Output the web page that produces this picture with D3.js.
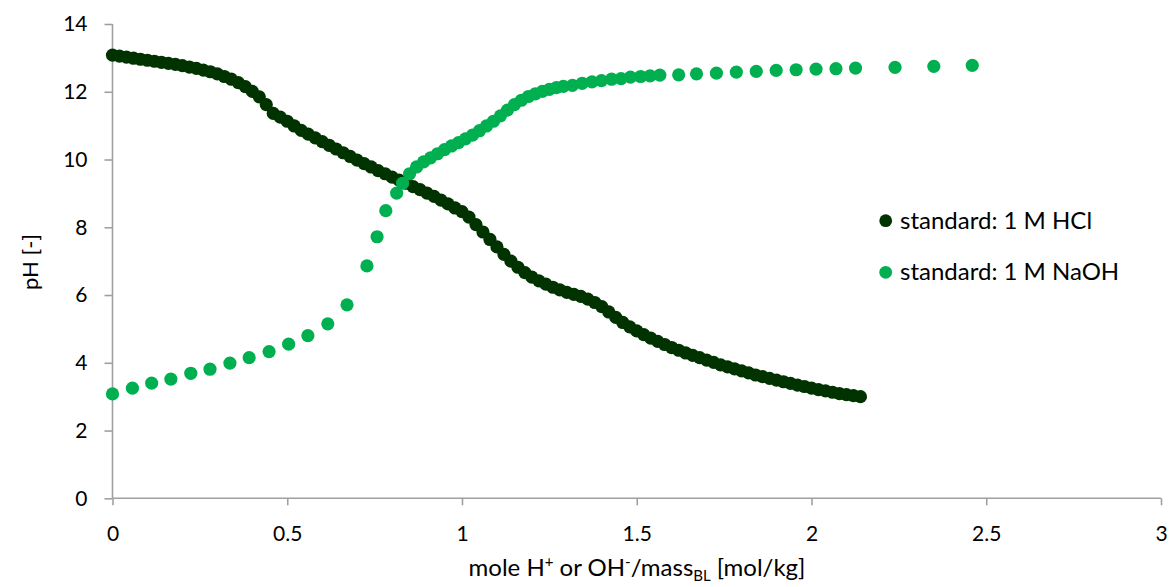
<!DOCTYPE html>
<html><head><meta charset="utf-8">
<script src="https://cdn.jsdelivr.net/npm/d3@7"></script>
<style>
html,body{margin:0;padding:0;background:#fff;}
svg text{font-family:Lato,"Open Sans",sans-serif;fill:#000;}
</style></head>
<body><svg id="chart" width="1170" height="587"></svg>
<script>
// ---- data ----
const seriesNames = ["standard: 1 M HCl", "standard: 1 M NaOH"];
const seriesColors = ["#003300", "#00b050"];
const xTicks = [0, 0.5, 1, 1.5, 2, 2.5, 3];
const yTicks = [0, 2, 4, 6, 8, 10, 12, 14];

const hclX = [0.00,0.02,0.04,0.06,0.08,0.10,0.12,0.14,0.16,0.18,0.20,0.22,0.24,0.26,0.28,0.30,0.32,0.34,0.36,0.38,
  0.40,0.42,0.44,0.46,0.48,0.50,0.52,0.54,0.56,0.58,0.60,0.62,0.64,0.66,0.68,0.70,0.72,0.74,0.76,0.78,
  0.80,0.82,0.84,0.86,0.88,0.90,0.92,0.94,0.96,0.98,1.00,1.02,1.04,1.06,1.08,1.10,1.12,1.14,1.16,1.18,
  1.20,1.22,1.24,1.26,1.28,1.30,1.32,1.34,1.36,1.38,1.40,1.42,1.44,1.46,1.48,1.50,1.52,1.54,1.56,1.58,
  1.60,1.62,1.64,1.66,1.68,1.70,1.72,1.74,1.76,1.78,1.80,1.82,1.84,1.86,1.88,1.90,1.92,1.94,1.96,1.98,
  2.00,2.02,2.04,2.06,2.08,2.10,2.12,2.14];
const hclPH = [13.08,13.05,13.02,12.99,12.96,12.93,12.90,12.87,12.84,12.81,12.77,12.73,12.69,12.64,12.59,12.53,12.45,12.37,12.27,12.15,
  12.01,11.85,11.62,11.36,11.25,11.13,10.99,10.86,10.75,10.64,10.53,10.42,10.31,10.20,10.09,9.98,9.88,9.78,9.67,9.58,
  9.48,9.39,9.30,9.20,9.11,9.01,8.91,8.80,8.69,8.57,8.46,8.30,8.08,7.86,7.64,7.42,7.20,7.00,6.82,6.66,
  6.53,6.42,6.32,6.23,6.15,6.08,6.02,5.96,5.88,5.78,5.66,5.50,5.34,5.19,5.06,4.94,4.83,4.73,4.63,4.54,
  4.45,4.37,4.29,4.22,4.15,4.08,4.01,3.94,3.88,3.82,3.76,3.70,3.64,3.59,3.54,3.49,3.44,3.39,3.34,3.30,
  3.25,3.21,3.17,3.13,3.09,3.06,3.03,3.00];

const naohX = [0.000,0.057,0.112,0.167,0.224,0.279,0.336,0.391,0.448,0.504,0.559,0.616,0.671,0.728,0.757,0.782,
  0.813,0.830,0.850,0.870,0.890,0.910,0.930,0.950,0.970,0.990,1.010,1.030,1.050,1.070,1.090,1.110,1.130,1.150,
  1.170,1.190,1.210,1.230,1.250,1.270,1.290,1.316,1.344,1.372,1.399,1.428,1.455,1.482,1.511,1.538,1.566,1.620,
  1.671,1.728,1.785,1.842,1.899,1.956,2.013,2.070,2.126,2.239,2.350,2.460];
const naohPH = [3.08,3.25,3.40,3.52,3.69,3.81,3.99,4.15,4.33,4.55,4.80,5.15,5.71,6.86,7.72,8.49,
  9.01,9.30,9.58,9.78,9.93,10.05,10.17,10.29,10.40,10.50,10.61,10.72,10.85,10.99,11.13,11.29,11.46,11.62,
  11.75,11.86,11.94,12.01,12.07,12.12,12.16,12.19,12.25,12.29,12.33,12.37,12.39,12.43,12.45,12.47,12.49,12.50,
  12.53,12.55,12.58,12.60,12.63,12.65,12.67,12.68,12.70,12.72,12.75,12.78];

// ---- drawing ----
const svg = d3.select("#chart");
const m = {left:112.5, right:1161, top:24, bottom:498.3};
const x = d3.scaleLinear().domain([0,3]).range([m.left, m.right]);
const y = d3.scaleLinear().domain([0,14]).range([m.bottom, m.top]);
const axisColor = "#a0a0a0";

// y axis
const gy = svg.append("g").attr("transform",`translate(${m.left},0)`)
  .call(d3.axisLeft(y).tickValues(yTicks).tickSize(8).tickPadding(17).tickFormat(d3.format("d")));
// x axis
const gx = svg.append("g").attr("transform",`translate(0,${m.bottom})`)
  .call(d3.axisBottom(x).tickValues(xTicks).tickSize(7).tickPadding(21).tickFormat(d => String(d)));
[gx, gy].forEach(g => {
  g.selectAll("path.domain").attr("stroke", axisColor).attr("stroke-width", 1.6);
  g.selectAll(".tick line").attr("stroke", axisColor).attr("stroke-width", 1.6);
  g.selectAll(".tick text").attr("font-size", 21).attr("font-family","Lato, sans-serif").attr("fill","#000");
});
gy.select("path.domain").attr("d", `M-0,${m.bottom}V${m.top}`);
gx.select("path.domain").attr("d", `M${m.left},0H${m.right}`);

// series
const hcl = hclX.map((v,i)=>({x:v, y:hclPH[i]}));
const naoh = naohX.map((v,i)=>({x:v, y:naohPH[i]}));
const r = 6.6;
svg.append("g").selectAll("circle").data(hcl).join("circle")
  .attr("cx", d=>x(d.x)).attr("cy", d=>y(d.y)).attr("r", r).attr("fill", seriesColors[0]);
svg.append("g").selectAll("circle").data(naoh).join("circle")
  .attr("cx", d=>x(d.x)).attr("cy", d=>y(d.y)).attr("r", r).attr("fill", seriesColors[1]);

// axis titles
const xt = svg.append("text").attr("x", 637).attr("y", 576).attr("text-anchor","middle").attr("font-size", 24);
xt.append("tspan").text("mole H");
xt.append("tspan").text("+").attr("font-size", 15).attr("dy", -9);
xt.append("tspan").text(" or OH").attr("dy", 9);
xt.append("tspan").text("-").attr("font-size", 15).attr("dy", -9);
xt.append("tspan").text("/mass").attr("dy", 9);
xt.append("tspan").text("BL").attr("font-size", 15).attr("dy", 5);
xt.append("tspan").text(" [mol/kg]").attr("dy", -5);

svg.append("text").attr("transform","translate(38,262) rotate(-90)")
  .attr("text-anchor","middle").attr("font-size", 22).text("pH [-]");

// legend
const leg = svg.append("g");
seriesNames.forEach((name,i) => {
  const cy = 220.7 + i*51.6;
  leg.append("circle").attr("cx", 885.7).attr("cy", cy).attr("r", 6.4).attr("fill", seriesColors[i]);
  leg.append("text").attr("x", 900).attr("y", cy + 8).attr("font-size", 24).text(name);
});
</script></body></html>
